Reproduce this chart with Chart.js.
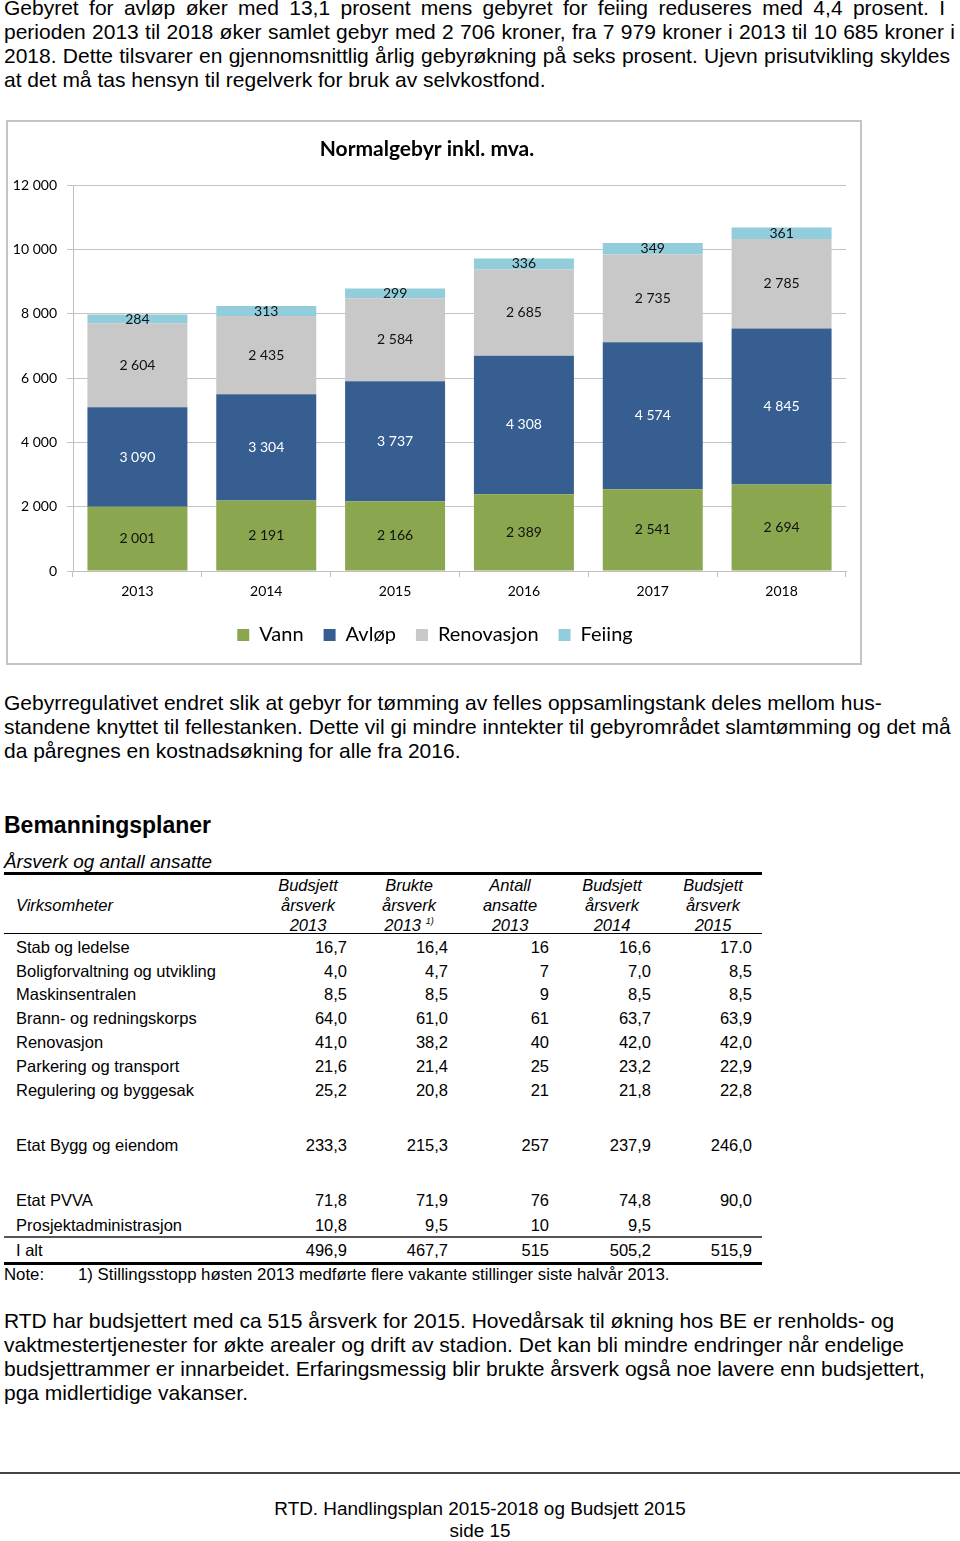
<!DOCTYPE html>
<html lang="no">
<head>
<meta charset="utf-8">
<title>Normalgebyr inkl. mva.</title>
<script src="https://cdn.jsdelivr.net/npm/chart.js@4/dist/chart.umd.min.js"></script>
<style>
    body { margin: 0; width: 960px; height: 1541px; position: relative; overflow: hidden; background: #fff;
           font-family: "Liberation Sans", Arial, sans-serif; color: #000; }
    .txt { position: absolute; left: 4px; font-size: 21px; line-height: 24px; white-space: nowrap; }
    .just { text-align: justify; text-align-last: justify; white-space: normal; }
    #frame { position: absolute; left: 6px; top: 120px; width: 852px; height: 541px; border: 2px solid #c4c4c4; }
    #frame canvas { display: block; }
    .row { position: absolute; left: 0; height: 24px; line-height: 24px; font-size: 16.5px; white-space: nowrap; }
    .row span { position: absolute; }
    .hd { position: absolute; font-size: 16.5px; font-style: italic; line-height: 20px; text-align: center; width: 100px; }
    .hd sup { font-size: 9px; line-height: 0; vertical-align: 0; position: relative; top: -7px; }
    .rule { position: absolute; left: 4px; width: 758px; background: #000; }
</style>
</head>
<body>

<div class="txt just" style="top:-4px;width:941px">Gebyret for avløp  øker med 13,1 prosent mens gebyret for feiing reduseres med 4,4 prosent. I</div>
<div class="txt just" style="top:20px;width:951px">perioden 2013 til 2018 øker samlet gebyr med 2 706 kroner, fra 7 979 kroner i 2013 til 10 685 kroner i</div>
<div class="txt just" style="top:44px;width:946px">2018. Dette tilsvarer en gjennomsnittlig årlig gebyrøkning på seks prosent. Ujevn prisutvikling skyldes</div>
<div class="txt" style="top:68px">at det må tas hensyn til regelverk for bruk av selvkostfond.</div>

<div id="frame"><canvas id="gebyrChart" width="852" height="541"></canvas></div>

<div class="txt" style="top:691px">Gebyrregulativet endret slik at gebyr for tømming av felles oppsamlingstank deles mellom hus-</div>
<div class="txt" style="top:715px">standene knyttet til fellestanken. Dette vil gi mindre inntekter til gebyrområdet slamtømming og det må</div>
<div class="txt" style="top:739px">da påregnes en kostnadsøkning for alle fra 2016.</div>

<div class="txt" style="top:811px;font-size:23px;font-weight:bold;line-height:28px">Bemanningsplaner</div>
<div class="txt" style="top:850px;font-size:18.9px;font-style:italic">Årsverk og antall ansatte</div>

<div id="table"></div>

<div class="txt" style="top:1309px">RTD har budsjettert med ca 515 årsverk for 2015. Hovedårsak til økning hos BE er renholds- og</div>
<div class="txt" style="top:1333px">vaktmestertjenester for økte arealer og drift av stadion. Det kan bli mindre endringer når endelige</div>
<div class="txt" style="top:1357px">budsjettrammer er innarbeidet. Erfaringsmessig blir brukte årsverk også noe lavere enn budsjettert,</div>
<div class="txt" style="top:1381px">pga midlertidige vakanser.</div>

<div style="position:absolute;left:0;top:1472px;width:960px;height:2px;background:#444"></div>
<div style="position:absolute;left:0;width:960px;top:1498px;text-align:center;font-size:18.9px;line-height:22px">RTD. Handlingsplan 2015-2018 og Budsjett 2015<br>side 15</div>

<script>
// Chart data
const years = ['2013', '2014', '2015', '2016', '2017', '2018'];
const vann = [2001, 2191, 2166, 2389, 2541, 2694];
const avlop = [3090, 3304, 3737, 4308, 4574, 4845];
const renovasjon = [2604, 2435, 2584, 2685, 2735, 2785];
const feiing = [284, 313, 299, 336, 349, 361];
const yTicks = [0, 2000, 4000, 6000, 8000, 10000, 12000];

// Table data
const tableHeads = [['Budsjett', 'årsverk', '2013'], ['Brukte', 'årsverk', '2013'], ['Antall', 'ansatte', '2013'],
    ['Budsjett', 'årsverk', '2014'], ['Budsjett', 'årsverk', '2015']];
const tableNames = ['Stab og ledelse', 'Boligforvaltning og utvikling', 'Maskinsentralen', 'Brann- og redningskorps',
    'Renovasjon', 'Parkering og transport', 'Regulering og byggesak', 'Etat Bygg og eiendom', 'Etat PVVA',
    'Prosjektadministrasjon', 'I alt'];
const tableValues = [
    ['16,7', '16,4', '16', '16,6', '17.0'],
    ['4,0', '4,7', '7', '7,0', '8,5'],
    ['8,5', '8,5', '9', '8,5', '8,5'],
    ['64,0', '61,0', '61', '63,7', '63,9'],
    ['41,0', '38,2', '40', '42,0', '42,0'],
    ['21,6', '21,4', '25', '23,2', '22,9'],
    ['25,2', '20,8', '21', '21,8', '22,8'],
    ['233,3', '215,3', '257', '237,9', '246,0'],
    ['71,8', '71,9', '76', '74,8', '90,0'],
    ['10,8', '9,5', '10', '9,5', ''],
    ['496,9', '467,7', '515', '505,2', '515,9']
];
const rowCenters = [947, 971, 994, 1018, 1042, 1066, 1090, 1145, 1200, 1225, 1250];
const colRight = [347, 448, 549, 651, 752];

function fmt(n) {
    return String(n).replace(/\B(?=(\d{3})+(?!\d))/g, ' ');
}

// build table
const table = document.getElementById('table');
let html = '';
html += '<div class="rule" style="top:872px;height:3px"></div>';
html += '<div class="hd" style="left:16px;top:895px;text-align:left">Virksomheter</div>';
tableHeads.forEach((h, i) => {
    const cx = colRight[i] - 39;
    const last = i === 1 ? h[2] + ' <sup>1)</sup>' : h[2];
    html += `<div class="hd" style="left:${cx - 50}px;top:875px">${h[0]}<br>${h[1]}<br>${last}</div>`;
});
html += '<div class="rule" style="top:933px;height:1px"></div>';
tableNames.forEach((name, r) => {
    let cells = `<span style="left:16px">${name}</span>`;
    tableValues[r].forEach((v, c) => {
        cells += `<span style="right:${960 - colRight[c]}px">${v}</span>`;
    });
    html += `<div class="row" style="top:${rowCenters[r] - 12}px;width:960px">${cells}</div>`;
});
html += '<div class="rule" style="top:1236px;height:2px;background:#555"></div>';
html += '<div class="rule" style="top:1262px;height:3px"></div>';
html += '<div class="row" style="top:1263px;width:960px;font-size:16.8px"><span style="left:4px">Note:</span><span style="left:78px">1) Stillingsstopp høsten 2013 medførte flere vakante stillinger siste halvår 2013.</span></div>';
table.innerHTML = html;

// draw value in the middle of each segment
const segmentLabels = {
    id: 'segmentLabels',
    afterDatasetsDraw(chart) {
        const ctx = chart.ctx;
        ctx.save();
        ctx.font = '14px Lato, "Open Sans", sans-serif';
        ctx.textAlign = 'center';
        ctx.textBaseline = 'middle';
        chart.data.datasets.forEach((ds, i) => {
            const meta = chart.getDatasetMeta(i);
            ctx.fillStyle = ds.labelColor;
            meta.data.forEach((bar, j) => {
                ctx.fillText(fmt(ds.data[j]), bar.x, (bar.y + bar.base) / 2);
            });
        });
        ctx.restore();
    }
};

// nudge the legend a bit to the right, like the original
const legendShift = {
    id: 'legendShift',
    afterLayout(chart) {
        if (chart.legend) chart.legend.left += 16;
    }
};

const ctx = document.getElementById('gebyrChart').getContext('2d');
new Chart(ctx, {
    type: 'bar',
    data: {
        labels: years,
        datasets: [
            { label: 'Vann', data: vann, backgroundColor: '#8aa64f', labelColor: '#111' },
            { label: 'Avløp', data: avlop, backgroundColor: '#375e91', labelColor: '#fff' },
            { label: 'Renovasjon', data: renovasjon, backgroundColor: '#c8c8c8', labelColor: '#111' },
            { label: 'Feiing', data: feiing, backgroundColor: '#92cddc', labelColor: '#111' }
        ]
    },
    options: {
        responsive: false,
        animation: false,
        layout: { padding: { top: 0, right: 14, bottom: 8, left: 0 } },
        datasets: { bar: { categoryPercentage: 1, barPercentage: 0.776 } },
        plugins: {
            title: {
                display: true,
                text: 'Normalgebyr inkl. mva.',
                color: '#000',
                font: { family: 'Lato', size: 21, weight: 'bold', lineHeight: 1.2 },
                padding: { top: 15, bottom: 23 }
            },
            legend: {
                position: 'bottom',
                labels: {
                    boxWidth: 12,
                    boxHeight: 12,
                    padding: 20,
                    color: '#000',
                    font: { family: 'Lato', size: 20, lineHeight: 1 }
                }
            },
            tooltip: { enabled: false }
        },
        scales: {
            x: {
                stacked: true,
                grid: { display: true, drawOnChartArea: false, drawTicks: true, tickLength: 6, color: '#bfbfbf' },
                border: { color: '#bfbfbf' },
                ticks: { color: '#000', padding: 1.5, font: { family: 'Lato', size: 14, lineHeight: 25 / 14 } }
            },
            y: {
                stacked: true,
                min: 0,
                max: 12000,
                afterFit(scale) { scale.width = 65; },
                afterBuildTicks(scale) { scale.ticks = yTicks.map(v => ({ value: v })); },
                grid: { color: '#c4c4c4', tickLength: 6 },
                border: { color: '#bfbfbf' },
                ticks: {
                    color: '#000',
                    padding: 10,
                    font: { family: 'Lato', size: 14 },
                    callback: (v) => fmt(v)
                }
            }
        }
    },
    plugins: [segmentLabels, legendShift]
});
</script>
</body>
</html>
